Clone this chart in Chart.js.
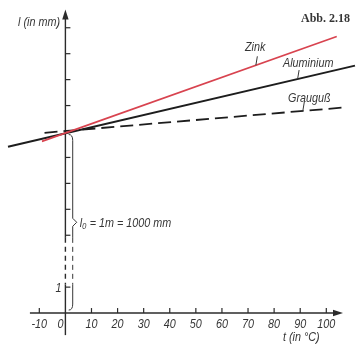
<!DOCTYPE html>
<html>
<head>
<meta charset="utf-8">
<script src="https://cdn.jsdelivr.net/npm/chart.js@4/dist/chart.umd.min.js"></script>
<style>
  html, body { margin: 0; padding: 0; background: #ffffff; }
  #wrap { width: 358px; height: 345px; }
</style>
</head>
<body>
<div id="wrap"><canvas id="c" width="358" height="345"></canvas></div>
<script>
// Linear expansion of a 1000 mm rod: temperature (°C) and elongation (mm) at the line ends
const zinkT = [-9, 104];
const zinkDl = [-0.38, 3.66];
const aluT = [-22, 111];
const aluDl = [-0.59, 2.54];
const graugussT = [-8, 106];
const graugussDl = [-0.05, 0.92];

// Temperature axis
const xTicks = [-10, 0, 10, 20, 30, 40, 50, 60, 70, 80, 90, 100];
const xTickLabels = ['-10', '0', '10', '20', '30', '40', '50', '60', '70', '80', '90', '100'];

// Length axis: 1 mm per step, broken between 1 and 3; l0 = 1000 mm sits at step 7
const yTickMarks = [1, 3, 4, 5, 6, 8, 9, 10, 11];
const yTickLabelValues = [1];
const yTickLabels = ['1'];
const L0_LEVEL = 7;

const INK = '#2b2b2b';
const TEXT = '#363636';
const RED = '#d8434f';
const ITALIC = 'italic 13.5px "Liberation Sans", Arial, sans-serif';
const SQUEEZE = 0.8;   // condensed technical lettering

const toPoints = (ts, dls) => ts.map((t, i) => ({ x: t, y: L0_LEVEL + dls[i] }));

const series = [
  { label: 'Zink', pts: toPoints(zinkT, zinkDl), color: RED, width: 1.7, dash: [] },
  { label: 'Aluminium', pts: toPoints(aluT, aluDl), color: '#1d1d1d', width: 2, dash: [] },
  { label: 'Grauguß', pts: toPoints(graugussT, graugussDl), color: '#1d1d1d', width: 1.8, dash: [13, 6] }
];

// y of a straight series at temperature t
function lineAt(pts, t) {
  const a = pts[0], b = pts[pts.length - 1];
  return a.y + (b.y - a.y) * (t - a.x) / (b.x - a.x);
}

// horizontally condensed italic text
function narrowText(ctx, str, x, y, align) {
  ctx.save();
  ctx.translate(x, y);
  ctx.scale(SQUEEZE, 1);
  ctx.font = ITALIC;
  ctx.textAlign = align || 'left';
  ctx.textBaseline = 'alphabetic';
  ctx.fillText(str, 0, 0);
  ctx.restore();
}

const decor = {
  id: 'decor',
  beforeDatasetsDraw(chart) {
    const { ctx, scales: { x, y } } = chart;
    const X = v => x.getPixelForValue(v), Y = v => y.getPixelForValue(v);
    ctx.save();
    ctx.strokeStyle = INK;
    ctx.fillStyle = INK;
    ctx.lineWidth = 1.4;
    const ax = X(0), ay = Y(0);

    // x axis with arrow
    const xEnd = X(106.4);
    ctx.beginPath(); ctx.moveTo(X(-13.6), ay); ctx.lineTo(xEnd - 6, ay); ctx.stroke();
    ctx.beginPath(); ctx.moveTo(xEnd, ay); ctx.lineTo(xEnd - 10, ay - 3.2); ctx.lineTo(xEnd - 10, ay + 3.2); ctx.closePath(); ctx.fill();

    // y axis with arrow, dashed across the break
    const yTop = Y(11.7);
    ctx.beginPath(); ctx.moveTo(ax, yTop + 6); ctx.lineTo(ax, Y(2.9)); ctx.stroke();
    ctx.beginPath(); ctx.moveTo(ax, Y(1.1)); ctx.lineTo(ax, Y(-0.85)); ctx.stroke();
    ctx.save(); ctx.setLineDash([5, 4]);
    ctx.beginPath(); ctx.moveTo(ax, Y(2.9)); ctx.lineTo(ax, Y(1.1)); ctx.stroke();
    ctx.restore();
    ctx.beginPath(); ctx.moveTo(ax, yTop); ctx.lineTo(ax - 3.2, yTop + 10); ctx.lineTo(ax + 3.2, yTop + 10); ctx.closePath(); ctx.fill();

    // tick marks
    ctx.lineWidth = 1.2;
    xTicks.forEach(v => {
      if (v === 0) return;
      ctx.beginPath(); ctx.moveTo(X(v), ay); ctx.lineTo(X(v), ay - 5); ctx.stroke();
    });
    yTickMarks.forEach(v => {
      ctx.beginPath(); ctx.moveTo(ax, Y(v)); ctx.lineTo(ax + 5, Y(v)); ctx.stroke();
    });
    ctx.restore();
  },
  afterDatasetsDraw(chart) {
    const { ctx, scales: { x, y } } = chart;
    const X = v => x.getPixelForValue(v), Y = v => y.getPixelForValue(v);
    ctx.save();
    ctx.strokeStyle = TEXT;
    ctx.fillStyle = TEXT;
    ctx.lineWidth = 1;
    const ax = X(0), ay = Y(0);

    // tick labels
    xTicks.forEach((v, i) => {
      if (v === 0) narrowText(ctx, xTickLabels[i], ax - 2, ay + 15, 'right');
      else narrowText(ctx, xTickLabels[i], X(v), ay + 15, 'center');
    });
    yTickLabelValues.forEach((v, i) => {
      narrowText(ctx, yTickLabels[i], ax - 4, Y(v) + 5, 'right');
    });

    // brace spanning l0 from the t axis up to 1000 mm
    const bx = X(2.8);
    const yL0 = Y(L0_LEVEL), yMid = Y(L0_LEVEL / 2), yZero = Y(0);
    ctx.beginPath();
    ctx.moveTo(bx - 4, yL0 + 3);
    ctx.quadraticCurveTo(bx, yL0 + 3, bx, yL0 + 9);
    ctx.lineTo(bx, yMid - 4);
    ctx.lineTo(bx + 4, yMid);
    ctx.lineTo(bx, yMid + 4);
    ctx.lineTo(bx, Y(2.9));
    ctx.moveTo(bx, Y(1.1));
    ctx.lineTo(bx, yZero - 9);
    ctx.quadraticCurveTo(bx, yZero - 3, bx - 4, yZero - 3);
    ctx.stroke();
    ctx.save(); ctx.setLineDash([5, 4]);
    ctx.beginPath(); ctx.moveTo(bx, Y(2.9)); ctx.lineTo(bx, Y(1.1)); ctx.stroke();
    ctx.restore();

    narrowText(ctx, 'l\u2080 = 1m = 1000 mm', bx + 7, yMid + 5);

    // series names with leader strokes
    const leaders = [
      { s: series[0], t: 73, tx: 245, ty: 51 },
      { s: series[1], t: 89, tx: 283, ty: 67 },
      { s: series[2], t: 91, tx: 288, ty: 102 }
    ];
    leaders.forEach(l => {
      const px = X(l.t), py = Y(lineAt(l.s.pts, l.t));
      ctx.beginPath(); ctx.moveTo(px, py); ctx.lineTo(px + 1.5, py - 9); ctx.stroke();
      narrowText(ctx, l.s.label, l.tx, l.ty);
    });

    // axis titles
    narrowText(ctx, 'l (in mm)', 18, 26);
    narrowText(ctx, 't (in \u00b0C)', 283, 341);

    ctx.font = 'bold 12px "Liberation Serif", "DejaVu Serif", serif';
    ctx.textAlign = 'left';
    ctx.fillText('Abb. 2.18', 301, 22);
    ctx.restore();
  }
};

new Chart(document.getElementById('c'), {
  type: 'scatter',
  data: {
    datasets: series.map(s => ({
      label: s.label,
      data: s.pts,
      showLine: true,
      borderColor: s.color,
      backgroundColor: s.color,
      borderWidth: s.width,
      borderDash: s.dash,
      pointRadius: 0,
      clip: false
    }))
  },
  options: {
    responsive: false,
    animation: false,
    devicePixelRatio: 1,
    layout: { padding: { left: 8, right: 3, top: 7, bottom: 6 } },
    plugins: { legend: { display: false }, tooltip: { enabled: false } },
    scales: {
      x: {
        type: 'linear',
        min: -22, max: 111,
        position: { y: 0 },
        border: { display: false },
        grid: { display: false, drawTicks: false },
        ticks: { display: false },
        afterFit: s => { s.height = 0; }
      },
      y: {
        type: 'linear',
        min: -1, max: 11.8,
        position: { x: 0 },
        border: { display: false },
        grid: { display: false, drawTicks: false },
        ticks: { display: false },
        afterFit: s => { s.width = 0; }
      }
    }
  },
  plugins: [decor]
});
</script>
</body>
</html>
